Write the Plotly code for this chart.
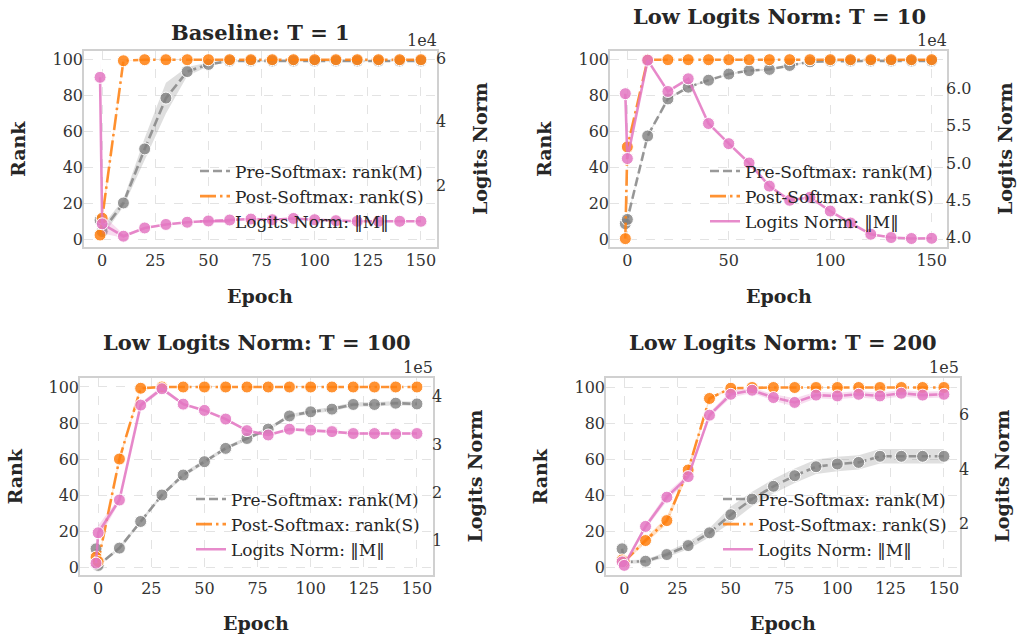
import plotly.graph_objects as go

W, H = 1017, 639

EPOCHS = [-1, 0, 10, 20, 30, 40, 50, 60, 70, 80, 90, 100, 110, 120, 130, 140, 150]

TITLES = ["Baseline: T = 1", "Low Logits Norm: T = 10",
          "Low Logits Norm: T = 100", "Low Logits Norm: T = 200"]
NORM_EXP = ["1e4", "1e4", "1e5", "1e5"]

# ---- T = 1 (norm in units of 1e4)
pre_T1 = [11.0, 4.6, 20.5, 50.5, 78.7, 93.4, 97.4, 99.3, 99.3, 99.3, 99.3, 99.3, 99.3, 99.3, 99.3, 99.3, 99.3]
pre_T1_std = [1.5, 3.0, 2.0, 6.0, 8.5, 2.5, 1.0, 0.5, 0.4, 0.4, 0.4, 0.4, 0.4, 0.4, 0.4, 0.4, 0.4]
post_T1 = [2.7, 12.0, 99.4, 100, 100, 100, 100, 100, 100, 100, 100, 100, 100, 100, 100, 100, 100]
post_T1_std = [0.5, 3.0, 0.3, 0, 0, 0, 0, 0, 0, 0, 0, 0, 0, 0, 0, 0, 0]
norm_T1 = [5.40, 0.78, 0.39, 0.65, 0.76, 0.83, 0.87, 0.90, 0.93, 0.91, 0.95, 0.91, 0.88, 0.86, 0.86, 0.86, 0.86]
norm_T1_std = [0.60, 0.30, 0.06, 0.03, 0.03, 0.03, 0.03, 0.03, 0.03, 0.03, 0.03, 0.03, 0.03, 0.03, 0.03, 0.03, 0.03]

# ---- T = 10 (norm in units of 1e4)
pre_T10 = [8.8, 11.2, 57.6, 78.2, 84.7, 88.6, 92.0, 93.9, 94.6, 96.8, 98.8, 99.2, 99.3, 99.3, 99.3, 99.3, 99.3]
pre_T10_std = [0.8, 0.8, 0.6, 0.6, 0.6, 0.5, 0.5, 0.5, 0.5, 0.5, 0.4, 0.4, 0.4, 0.4, 0.4, 0.4, 0.4]
post_T10 = [0.5, 51.5, 100, 100, 100, 100, 100, 100, 100, 100, 100, 100, 100, 100, 100, 100, 100]
post_T10_std = [0.3, 1.0, 0, 0, 0, 0, 0, 0, 0, 0, 0, 0, 0, 0, 0, 0, 0]
norm_T10 = [5.93, 5.06, 6.38, 5.96, 6.13, 5.53, 5.26, 5.00, 4.69, 4.50, 4.54, 4.355, 4.195, 4.044, 4.00, 3.987, 3.99]
norm_T10_std = [0.01, 0.01, 0.01, 0.01, 0.01, 0.01, 0.01, 0.01, 0.01, 0.01, 0.01, 0.01, 0.01, 0.01, 0.01, 0.01, 0.01]

# ---- T = 100 (norm in units of 1e5)
pre_T100 = [10.1, 0.9, 10.5, 25.3, 40.0, 51.1, 58.5, 65.9, 71.4, 76.6, 83.9, 86.2, 87.7, 90.3, 90.3, 91.0, 90.6]
pre_T100_std = [1.0, 0.5, 1.0, 1.0, 1.0, 1.2, 1.0, 1.0, 1.0, 1.0, 1.0, 1.0, 1.2, 1.2, 1.2, 1.2, 1.2]
post_T100 = [5.5, 3.0, 60.0, 99.3, 100, 100, 100, 100, 100, 100, 100, 100, 100, 100, 100, 100, 100]
post_T100_std = [1.0, 1.0, 1.5, 0.5, 0, 0, 0, 0, 0, 0, 0, 0, 0, 0, 0, 0, 0]
norm_T100 = [0.53, 1.16, 1.84, 3.81, 4.15, 3.83, 3.70, 3.52, 3.28, 3.19, 3.31, 3.29, 3.26, 3.22, 3.22, 3.21, 3.22]
norm_T100_std = [0.05, 0.15, 0.05, 0.05, 0.05, 0.03, 0.03, 0.03, 0.03, 0.03, 0.03, 0.03, 0.03, 0.03, 0.03, 0.03, 0.03]

# ---- T = 200 (norm in units of 1e5)
pre_T200 = [10.2, 2.8, 3.3, 7.0, 12.0, 19.1, 29.2, 37.9, 45.0, 50.9, 55.9, 57.4, 58.3, 61.7, 61.7, 61.7, 61.7]
pre_T200_std = [1.0, 1.0, 1.0, 1.5, 2.0, 2.5, 4.5, 4.0, 4.0, 4.0, 4.0, 4.0, 4.0, 4.0, 4.0, 4.0, 4.0]
post_T200 = [4.0, 3.0, 14.8, 25.9, 54.1, 93.9, 99.6, 100, 100, 100, 100, 100, 100, 100, 100, 100, 100]
post_T200_std = [0.5, 0.5, 1.5, 2.0, 2.0, 1.0, 0.3, 0, 0, 0, 0, 0, 0, 0, 0, 0, 0]
norm_T200 = [0.57, 0.44, 1.88, 2.96, 3.72, 5.99, 6.76, 6.91, 6.64, 6.46, 6.73, 6.70, 6.76, 6.70, 6.80, 6.73, 6.76]
norm_T200_std = [0.05, 0.05, 0.10, 0.15, 0.10, 0.10, 0.12, 0.10, 0.12, 0.15, 0.12, 0.12, 0.12, 0.12, 0.12, 0.12, 0.12]

PRE = [pre_T1, pre_T10, pre_T100, pre_T200]
PRE_STD = [pre_T1_std, pre_T10_std, pre_T100_std, pre_T200_std]
POST = [post_T1, post_T10, post_T100, post_T200]
POST_STD = [post_T1_std, post_T10_std, post_T100_std, post_T200_std]
NORM = [norm_T1, norm_T10, norm_T100, norm_T200]
NORM_STD = [norm_T1_std, norm_T10_std, norm_T100_std, norm_T200_std]

LEGEND_NAMES = ["Pre-Softmax: rank(M)", "Post-Softmax: rank(S)", "Logits Norm: \u2016M\u2016"]

X_TICKS = [[0, 25, 50, 75, 100, 125, 150], [0, 50, 100, 150],
           [0, 25, 50, 75, 100, 125, 150], [0, 25, 50, 75, 100, 125, 150]]
R_TICKS = [[2, 4, 6], [4.0, 4.5, 5.0, 5.5, 6.0], [1, 2, 3, 4], [2, 4, 6]]
R_TICKTXT = [["2", "4", "6"], ["4.0", "4.5", "5.0", "5.5", "6.0"], ["1", "2", "3", "4"], ["2", "4", "6"]]
R_RANGE = [[0.035, 6.24], [3.867, 6.507], [0.276, 4.38], [0.07, 7.376]]
L_RANGE = [[-4.2, 105.0], [-4.4, 105.0], [-4.65, 105.2], [-4.6, 105.5]]

# plot-area boxes in pixels: (left, right, top, bottom)
BOX = [(84, 437, 49, 247), (610, 947, 49, 247), (80, 433, 378, 577), (606, 960, 378, 577)]

GRAY = "127,127,127"
ORANGE = "255,127,14"
PINK = "227,119,194"

FONT = "DejaVu Serif"
TXT = "#262626"
TICK = "#333333"
TICK_SIZE = 16
LEG_SIZE = 17

fig = go.Figure()


def px(x):
    return x / W


def py(y):
    return 1 - y / H


def band(xa, ya, mean, std, rgb, alpha):
    up = [m + s for m, s in zip(mean, std)]
    lo = [m - s for m, s in zip(mean, std)]
    fig.add_trace(go.Scatter(x=EPOCHS, y=up, xaxis=xa, yaxis=ya, mode="lines",
                             line=dict(width=0), showlegend=False, hoverinfo="skip"))
    fig.add_trace(go.Scatter(x=EPOCHS, y=lo, xaxis=xa, yaxis=ya, mode="lines",
                             line=dict(width=0), fill="tonexty",
                             fillcolor=f"rgba({rgb},{alpha})", showlegend=False, hoverinfo="skip"))


DASH = "9px,4px"
DASHDOT = "16px,4px,2.5px,4px"

layout = dict(
    width=W, height=H, margin=dict(l=0, r=0, t=0, b=0),
    paper_bgcolor="white", plot_bgcolor="white",
    font=dict(family=FONT, size=TICK_SIZE, color=TXT),
    annotations=[],
)

for i in range(4):
    n = i + 1
    xa = "x" if n == 1 else f"x{n}"
    ya = "y" if n == 1 else f"y{n}"
    yr = f"y{n + 4}"
    L, R, T, B = BOX[i]
    lg = "legend" if n == 1 else f"legend{n}"

    band(xa, ya, PRE[i], PRE_STD[i], GRAY, 0.25)
    band(xa, ya, POST[i], POST_STD[i], ORANGE, 0.25)
    fig.add_trace(go.Scatter(
        x=EPOCHS, y=PRE[i], xaxis=xa, yaxis=ya, mode="lines+markers", showlegend=False,
        line=dict(color=f"rgba({GRAY},0.8)", width=2.6, dash=DASH),
        marker=dict(size=12, color=f"rgba({GRAY},0.8)", line=dict(color="white", width=1))))
    fig.add_trace(go.Scatter(
        x=EPOCHS, y=POST[i], xaxis=xa, yaxis=ya, mode="lines+markers", showlegend=False,
        line=dict(color=f"rgba({ORANGE},0.85)", width=2.6, dash=DASHDOT),
        marker=dict(size=12, color=f"rgba({ORANGE},0.85)", line=dict(color="white", width=1))))
    band(xa, yr, NORM[i], NORM_STD[i], PINK, 0.25)
    fig.add_trace(go.Scatter(
        x=EPOCHS, y=NORM[i], xaxis=xa, yaxis=yr, mode="lines+markers", showlegend=False,
        line=dict(color=f"rgba({PINK},0.85)", width=2.6),
        marker=dict(size=12, color=f"rgba({PINK},0.85)", line=dict(color="white", width=1))))

    styles = [dict(color=f"rgba({GRAY},0.8)", width=2.6, dash=DASH),
              dict(color=f"rgba({ORANGE},0.85)", width=2.6, dash=DASHDOT),
              dict(color=f"rgba({PINK},0.85)", width=2.6)]
    for k in range(3):
        fig.add_trace(go.Scatter(x=[None], y=[None], xaxis=xa, yaxis=ya, mode="lines",
                                 name=LEGEND_NAMES[k], line=styles[k], legend=lg,
                                 legendgroup=f"g{n}{k}", showlegend=True))
    layout[lg] = dict(x=px(R - 8), xanchor="right", y=py(B - 8), yanchor="bottom",
                      bgcolor="rgba(255,255,255,0)", borderwidth=0,
                      font=dict(family=FONT, size=LEG_SIZE, color=TXT),
                      tracegroupgap=0, itemwidth=30, traceorder="grouped")

    xk = "xaxis" if n == 1 else f"xaxis{n}"
    yk = "yaxis" if n == 1 else f"yaxis{n}"
    yrk = f"yaxis{n + 4}"
    layout[xk] = dict(domain=[px(L), px(R)], anchor=ya, range=[-8.55, 157.55],
                      tickvals=X_TICKS[i], showgrid=True, gridcolor="#e3e3e3", griddash="dash",
                      gridwidth=1, zeroline=False, showline=True, mirror=True,
                      linecolor="#d0d0d0", linewidth=1.5, ticks="", ticklabelstandoff=-2,
                      tickfont=dict(family=FONT, size=TICK_SIZE, color=TICK))
    layout[yk] = dict(domain=[py(B), py(T)], anchor=xa, range=L_RANGE[i],
                      tickvals=[0, 20, 40, 60, 80, 100], showgrid=True, gridcolor="#e3e3e3",
                      griddash="dash", gridwidth=1, zeroline=False, showline=True, mirror=True,
                      linecolor="#d0d0d0", linewidth=1.5, ticks="", ticklabelstandoff=-4,
                      tickfont=dict(family=FONT, size=TICK_SIZE, color=TICK))
    layout[yrk] = dict(overlaying=ya, anchor=xa, side="right", range=R_RANGE[i],
                       tickvals=R_TICKS[i], ticktext=R_TICKTXT[i], showgrid=False,
                       zeroline=False, showline=False, ticks="", ticklabelstandoff=-2,
                       tickfont=dict(family=FONT, size=TICK_SIZE, color=TICK))

TITLE_POS = [(260, 31), (779, 15), (257, 343), (783, 343)]
EPOCH_POS = [(260, 296), (779, 296), (256, 625), (783, 625)]
RANK_X = [18, 544, 15, 540]
NORM_X = [480, 1005, 475, 1002]
EXP_POS = [(422, 39), (932, 39), (418, 368), (944, 368)]

for i in range(4):
    L, R, T, B = BOX[i]
    cy = (T + B) / 2
    anns = layout["annotations"]
    anns.append(dict(text=f"<b>{TITLES[i]}</b>", x=px(TITLE_POS[i][0]), y=py(TITLE_POS[i][1]),
                     xref="paper", yref="paper", showarrow=False, xanchor="center", yanchor="middle",
                     font=dict(family=FONT, size=21, color=TXT)))
    anns.append(dict(text="<b>Epoch</b>", x=px(EPOCH_POS[i][0]), y=py(EPOCH_POS[i][1]),
                     xref="paper", yref="paper", showarrow=False, xanchor="center", yanchor="middle",
                     font=dict(family=FONT, size=19, color=TXT)))
    anns.append(dict(text="<b>Rank</b>", x=px(RANK_X[i]), y=py(cy), textangle=-90,
                     xref="paper", yref="paper", showarrow=False, xanchor="center", yanchor="middle",
                     font=dict(family=FONT, size=19, color=TXT)))
    anns.append(dict(text="<b>Logits Norm</b>", x=px(NORM_X[i]), y=py(cy), textangle=-90,
                     xref="paper", yref="paper", showarrow=False, xanchor="center", yanchor="middle",
                     font=dict(family=FONT, size=19, color=TXT)))
    anns.append(dict(text=NORM_EXP[i], x=px(EXP_POS[i][0]), y=py(EXP_POS[i][1]),
                     xref="paper", yref="paper", showarrow=False, xanchor="center", yanchor="middle",
                     font=dict(family=FONT, size=TICK_SIZE, color=TICK)))

fig.update_layout(**layout)
fig.write_html("out.html")
